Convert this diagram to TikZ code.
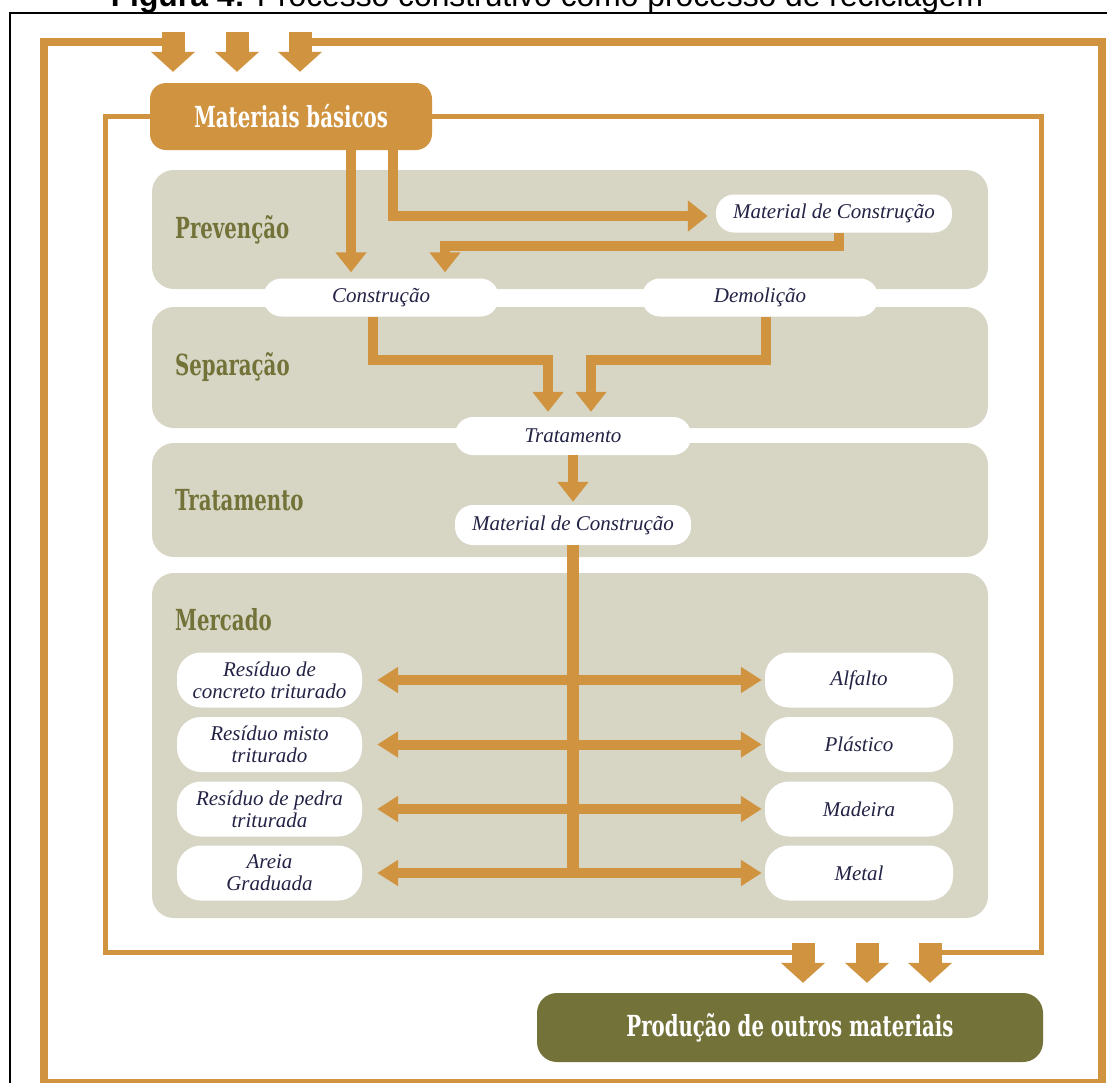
\documentclass[tikz,border=0pt]{standalone}
\usepackage{fontspec}
\setmainfont{Liberation Serif}
\newfontfamily\slabfnt{DejaVu Serif}[FakeStretch=0.68]
\newfontfamily\capfnt{Liberation Sans}
\usetikzlibrary{arrows.meta,calc}
\definecolor{org}{RGB}{208,147,64}
\definecolor{panelgray}{RGB}{215,214,197}
\definecolor{olive}{RGB}{115,115,57}
\definecolor{ink}{RGB}{35,35,70}
\newcommand\hdrfnt{\slabfnt\bfseries\fontsize{29}{32}\selectfont}
\newcommand\pillfnt{\itshape\fontsize{21}{22}\selectfont}
\pgfdeclarelayer{bg}
\pgfsetlayers{bg,main}
\begin{document}
\begin{tikzpicture}[x=1pt,y=-1pt,
  panel/.style={fill=panelgray, rounded corners=22pt},
  pill/.style={fill=white, rounded corners=18pt, inner sep=0pt, minimum height=38pt, text=ink, font=\pillfnt, align=center},
  mpill/.style={pill, rounded corners=24pt, minimum height=55pt},
  lbl/.style={anchor=base west, inner sep=0pt, font=\hdrfnt, text=olive},
  flow/.style={draw=org, line width=10pt, line join=miter, -{Triangle[width=30pt,length=20pt]}},
  trunk/.style={draw=org, line width=12pt},
  marrow/.style={draw=org, line width=10pt, {Triangle[width=25pt,length=21pt]}-{Triangle[width=25pt,length=21pt]}},
  bigarrow/.style={draw=org, line width=23pt, -{Triangle[width=43pt,length=20pt]}},
  outerframe/.style={draw=org, line width=8pt, line join=miter},
  innerframe/.style={draw=org, line width=5pt, line join=miter}]
\useasboundingbox (0,0) rectangle (1107,1082);

% caption (cut by the top of the page)
\node[anchor=base, inner sep=0pt, font={\capfnt\fontsize{31.8}{34}\selectfont}] (caption) at (547,6)
  {\textbf{Figura 4:} Processo construtivo como processo de reciclagem};

% main boxes
\node[fill=org, rounded corners=16pt, minimum width=282pt, minimum height=67pt, inner sep=0pt,
      text=white, font=\hdrfnt] (mat) at (291,116.5) {Materiais básicos};
\node[fill=olive, rounded corners=20pt, minimum width=506pt, minimum height=69pt, inner sep=0pt,
      text=white, font=\hdrfnt] (prod) at (790,1027.5) {Produção de outros materiais};

% section labels
\node[lbl] (lprev) at (175,238) {Prevenção};
\node[lbl] (lsep) at (175,375) {Separação};
\node[lbl] (ltrat) at (175,510) {Tratamento};
\node[lbl] (lmerc) at (175,630) {Mercado};

% pills
\node[pill, minimum width=236pt] (matc1) at (834,213.5) {Material de Construção};
\node[pill, minimum width=235pt] (cons) at (381,297.5) {Construção};
\node[pill, minimum width=236pt] (demo) at (760,297.5) {Demolição};
\node[pill, minimum width=236pt] (trat) at (573,436) {Tratamento};
\node[pill, minimum width=236pt, minimum height=40pt] (matc2) at (573,525) {Material de Construção};

\node[mpill, minimum width=185pt] (l1) at (269.5,680) {Resíduo de\\concreto triturado};
\node[mpill, minimum width=185pt] (l2) at (269.5,744.5) {Resíduo misto\\triturado};
\node[mpill, minimum width=185pt] (l3) at (269.5,809) {Resíduo de pedra\\triturada};
\node[mpill, minimum width=185pt] (l4) at (269.5,873) {Areia\\Graduada};
\node[mpill, minimum width=188pt] (r1) at (859,680) {Alfalto};
\node[mpill, minimum width=188pt] (r2) at (859,744.5) {Plástico};
\node[mpill, minimum width=188pt] (r3) at (859,809) {Madeira};
\node[mpill, minimum width=188pt] (r4) at (859,873) {Metal};

% helper coordinates
\coordinate (ta1) at (173,32);
\coordinate (ta2) at (237,32);
\coordinate (ta3) at (300,32);
\coordinate (ba1) at (803,943);
\coordinate (ba2) at (867,943);
\coordinate (ba3) at (930,943);
\coordinate (oftl) at (44,42);
\coordinate (oftr) at (1102,42);
\coordinate (ofbl) at (44,1083);
\coordinate (ofbr) at (1102,1083);
\coordinate (ifl) at (105,952);
\coordinate (ifr) at (1041,952);

\begin{pgfonlayer}{bg}
  % black frame
  \draw[line width=2pt, black] (9.5,1095) -- (9.5,13) -- (1120,13);
  % outer frame
  \draw[outerframe] (ta1 |- oftl) -- (oftl) -- (ofbl) -- (ofbr) -- (oftr) -- (ta3 |- oftr);
  % inner frame
  \draw[innerframe] (mat.west) -- (mat.west -| ifl) -- (ifl) -- (ba1 |- ifl);
  \draw[innerframe] (ba3 |- ifr) -- (ifr) -- (mat.east -| ifr) -- (mat.east);
  % panels
  \fill[panel] (152,170) rectangle (988,289);
  \fill[panel] (152,307) rectangle (988,428);
  \fill[panel] (152,443) rectangle (988,557);
  \fill[panel] (152,573) rectangle (988,918);
\end{pgfonlayer}

% big input / output arrows
\foreach \a in {ta1,ta2,ta3} \draw[bigarrow, shorten >=11pt] (\a) -- (\a |- mat.north);
\foreach \a in {ba1,ba2,ba3} \draw[bigarrow, shorten >=10pt] (\a) -- (\a |- prod.north);

% Prevencao
\coordinate (p1) at (351,0);
\coordinate (p2) at (393,216);
\coordinate (p3) at (839,246);
\coordinate (p4) at (445,246);
\draw[flow, shorten >=6pt] (p1 |- mat.south) -- (p1 |- cons.north);
\draw[flow, shorten >=8pt] (p2 |- mat.south) -- (p2) -- (p2 -| matc1.west);
\draw[flow, shorten >=6pt] (p3 |- matc1.south) -- (p3) -- (p4) -- (p4 |- cons.north);

% Separacao
\coordinate (s1) at (373,360);
\coordinate (s2) at (548,360);
\coordinate (s3) at (766,360);
\coordinate (s4) at (591,360);
\draw[flow, shorten >=5pt] (s1 |- cons.south) -- (s1) -- (s2) -- (s2 |- trat.north);
\draw[flow, shorten >=5pt] (s3 |- demo.south) -- (s3) -- (s4) -- (s4 |- trat.north);

% Tratamento
\draw[flow, shorten >=3pt] (trat.south) -- (matc2.north);

% Mercado
\coordinate (tend) at ($(matc2.south |- l4)+(0,5)$);
\draw[trunk] (matc2.south) -- (tend);
\foreach \i in {1,2,3,4} \draw[marrow, shorten <=15pt, shorten >=3pt] (l\i) -- (r\i);
\end{tikzpicture}
\end{document}
